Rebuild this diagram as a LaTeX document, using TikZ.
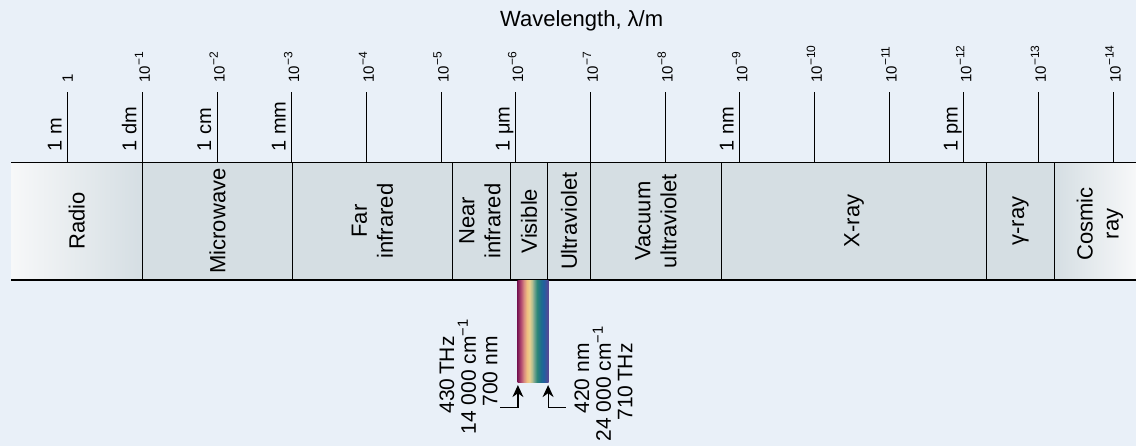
\documentclass[tikz,border=0pt]{standalone}
\usepackage{fontspec}
\setmainfont{Liberation Sans}
\usetikzlibrary{arrows.meta}
\definecolor{bgblue}{RGB}{233,240,248}
\definecolor{bandgray}{RGB}{213,222,227}
\definecolor{bandwhite}{RGB}{247,248,249}
% colours of the visible strip, red to violet
\definecolor{vsA}{RGB}{126,26,85}
\definecolor{vsB}{RGB}{176,72,112}
\definecolor{vsC}{RGB}{216,138,128}
\definecolor{vsD}{RGB}{240,192,128}
\definecolor{vsE}{RGB}{234,208,144}
\definecolor{vsF}{RGB}{184,192,144}
\definecolor{vsG}{RGB}{128,168,144}
\definecolor{vsH}{RGB}{46,136,120}
\definecolor{vsI}{RGB}{30,110,138}
\definecolor{vsJ}{RGB}{32,96,160}
\definecolor{vsK}{RGB}{94,68,144}
\pgfdeclarehorizontalshading{visspec}{100bp}{color(0bp)=(vsA); color(25bp)=(vsA);
  color(30bp)=(vsB); color(35bp)=(vsC); color(40bp)=(vsD); color(44bp)=(vsE);
  color(48bp)=(vsF); color(51bp)=(vsG); color(56bp)=(vsH); color(62bp)=(vsI);
  color(67bp)=(vsJ); color(75bp)=(vsK); color(100bp)=(vsK)}
% power of ten with a raised exponent
\newcommand{\decade}[1]{10\raisebox{3.4pt}{\fontsize{6}{7}\selectfont −#1}}

\begin{document}
\begin{tikzpicture}[x=0.5pt, y=-0.5pt,
    bandlbl/.style={rotate=90, align=center, inner sep=0pt, font=\fontsize{11}{13}\selectfont},
    unitlbl/.style={rotate=90, anchor=base west, inner sep=0pt, font=\fontsize{10}{12}\selectfont},
    explbl/.style={rotate=90, anchor=west, inner sep=0pt, font=\fontsize{7.5}{9}\selectfont},
    freqlbl/.style={rotate=90, align=right, anchor=south east, inner sep=0pt,
                    font=\fontsize{10.5}{10.8}\selectfont},
    tick/.style={line width=0.5pt},
    divider/.style={line width=0.5pt},
    arr/.style={-{Stealth[length=6pt, width=5.5pt]}, line width=0.6pt}
]
    \useasboundingbox (0,0) rectangle (1136,446);
    \fill[bgblue] (0,0) rectangle (1136,446);

    % scale of wavelengths
    \node[font=\fontsize{11}{13}\selectfont] (title) at (581.7,21) {Wavelength, λ/m};
    \foreach \i in {0,...,14}
        \draw[tick] ({67.7+74.67*\i},92) -- ({67.7+74.67*\i},162);
    \node[explbl] (e0) at (67.7,83) {1};
    \foreach \i in {1,...,14}
        \node[explbl] (e\i) at ({67.7+74.67*\i},83) {\decade{\i}};
    \foreach \i/\u in {0/1 m, 1/1 dm, 2/1 cm, 3/1 mm, 6/1 μm, 9/1 nm, 12/1 pm}
        \node[unitlbl] (u\i) at ({61.7+74.67*\i},152) {\u};

    % the band of regions
    \shade[left color=bandwhite, right color=bandgray] (11,162) rectangle (142.3,280);
    \fill[bandgray] (142.3,162) rectangle (1054.3,280);
    \shade[left color=bandgray, right color=bandwhite] (1054.3,162) rectangle (1136,280);
    \draw[line width=0.5pt] (11,162) -- (1136,162);
    \draw[line width=0.8pt] (11,280) -- (1136,280);
    \foreach \x in {142.3,292.5,452.3,510.7,547.3,590.7,721.3,986.7,1054.3}
        \draw[divider] (\x,162) -- (\x,281);

    \node[bandlbl] (radio)  at (76.7,221)  {Radio};
    \node[bandlbl] (micro)  at (217.4,221) {Microwave};
    \node[bandlbl] (farir)  at (372.4,221) {Far\\infrared};
    \node[bandlbl] (nearir) at (480,221)   {Near\\infrared};
    \node[bandlbl] (vis)    at (529,221)   {Visible};
    \node[bandlbl] (uv)     at (569,221)   {Ultraviolet};
    \node[bandlbl] (vuv)    at (656,221)   {Vacuum\\ultraviolet};
    \node[bandlbl] (xray)   at (854,221)   {X-ray};
    \node[bandlbl] (gray)   at (1020.5,221) {γ-ray};
    \node[bandlbl] (cosmic) at (1100,224)  {Cosmic\\ray};

    % visible strip and its limits
    \node[shade, shading=visspec, minimum width=15.5pt, minimum height=51pt,
          inner sep=0pt] (spec) at (533.2,331.7) {};
    \node[freqlbl] (redlbl) at (498,336)
        {430\,THz\\14 000 cm\rlap{\textsuperscript{−1}}\\700 nm};
    \node[freqlbl] (violetlbl) at (633,343)
        {420 nm\\24 000 cm\rlap{\textsuperscript{−1}}\\710\,THz};
    \coordinate (redend) at (500,407.3);
    \coordinate (violetend) at (565.7,407.3);
    \draw[arr, shorten >=1pt] (redend) -| ([xshift=0.3pt]spec.south west);
    \draw[arr, shorten >=1pt] (violetend) -| ([xshift=-0.5pt]spec.south east);
\end{tikzpicture}
\end{document}
